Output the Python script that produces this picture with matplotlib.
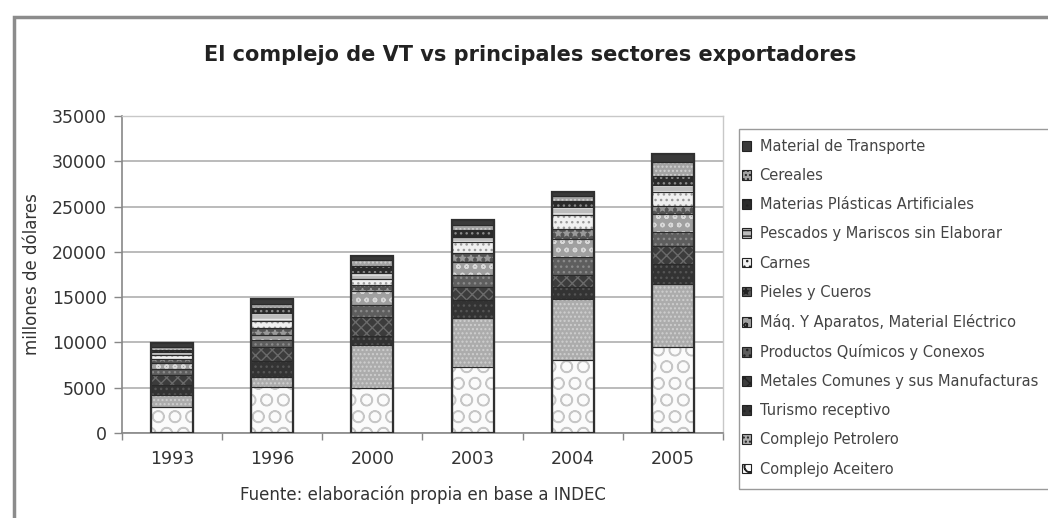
import matplotlib
matplotlib.use('Agg')
import matplotlib.pyplot as plt
import numpy as np
from matplotlib.patches import Patch, Rectangle

years = ['1993', '1996', '2000', '2003', '2004', '2005']

# series listed bottom -> top of the stack
aceitero   = [2900, 5100, 5000, 7300, 8100, 9500]
petrolero  = [1300, 1100, 4700, 5450, 6650, 7000]
turismo    = [1100, 1800, 1000, 1900, 1400, 2200]
metales    = [1100, 1500, 2100, 1500, 1300, 1900]
quimicos   = [700, 750, 1300, 1300, 2000, 1600]
maquinas   = [600, 550, 1600, 1450, 2000, 2000]
pieles     = [500, 800, 600, 950, 1100, 900]
carnes     = [400, 800, 700, 1250, 1500, 1500]
pescados   = [300, 900, 700, 550, 900, 800]
plasticas  = [300, 550, 700, 750, 700, 1000]
cereales   = [300, 400, 700, 550, 500, 1500]
transporte = [400, 600, 400, 550, 500, 900]

names = ['Complejo Aceitero', 'Complejo Petrolero', 'Turismo receptivo',
         'Metales Comunes y sus Manufacturas', 'Productos Químicos y Conexos',
         'Máq. Y Aparatos, Material Eléctrico', 'Pieles y Cueros', 'Carnes',
         'Pescados y Mariscos sin Elaborar', 'Materias Plásticas Artificiales',
         'Cereales', 'Material de Transporte']
series = [aceitero, petrolero, turismo, metales, quimicos, maquinas, pieles,
          carnes, pescados, plasticas, cereales, transporte]

# (face colour, hatch, hatch colour)
styles = [
    ('#fbfbfb', 'O', '#c6c6c6'),
    ('#acacac', '....', '#cfcfcf'),
    ('#333333', '...', '#555555'),
    ('#3c3c3c', 'xxx', '#6a6a6a'),
    ('#5e5e5e', '...', '#8a8a8a'),
    ('#a0a0a0', 'oo', '#d8d8d8'),
    ('#555555', '**', '#9a9a9a'),
    ('#f0f0f0', '...', '#9a9a9a'),
    ('#bdbdbd', '---', '#e8e8e8'),
    ('#2b2b2b', '...', '#8a8a8a'),
    ('#a3a3a3', '....', '#d0d0d0'),
    ('#3a3a3a', '', '#3a3a3a'),
]

plt.rcParams['font.family'] = ['DejaVu Sans']
plt.rcParams['hatch.linewidth'] = 1.0

W, H = 1048, 518
fig = plt.figure(figsize=(W / 100, H / 100), dpi=100)

def fx(px):
    return px / W

def fy(py):
    return 1 - py / H

# outer frame
fig.patches.append(Rectangle((fx(14), fy(540)), fx(1070) - fx(14), fy(17) - fy(540),
                             transform=fig.transFigure, fill=False,
                             edgecolor='#8c8c8c', linewidth=2.5, zorder=0))

ax = fig.add_axes([fx(122), fy(433), fx(723) - fx(122), fy(116) - fy(433)])

x = np.arange(len(years))
bw = 0.42
bottom = np.zeros(len(years))
for vals, (face, hatch, hcol) in zip(series, styles):
    v = np.array(vals, dtype=float)
    ax.bar(x, v, bw, bottom=bottom, color=face, edgecolor=hcol, hatch=hatch,
           linewidth=0, zorder=2)
    ax.bar(x, v, bw, bottom=bottom, fill=False, edgecolor='#2a2a2a',
           linewidth=0.8, zorder=3)
    bottom += v
ax.bar(x, bottom, bw, fill=False, edgecolor='#303030', linewidth=1.6, zorder=4)

ax.set_xlim(-0.5, len(years) - 0.5)
ax.set_ylim(0, 35000)
ax.set_yticks(np.arange(0, 35001, 5000))
ax.set_yticklabels([str(v) for v in range(0, 35001, 5000)])
ax.set_xticks(x)
ax.set_xticklabels(years)
ax.set_xticks(np.arange(-0.5, len(years), 1.0), minor=True)
ax.tick_params(axis='x', which='major', length=0, pad=12, labelsize=12.5,
               labelcolor='#333333')
ax.tick_params(axis='x', which='minor', length=5, width=1, color='#888888',
               direction='out')
ax.tick_params(axis='y', length=6, width=1, color='#888888', pad=5,
               labelsize=12.5, labelcolor='#333333')
ax.yaxis.grid(True, color='#a8a8a8', linewidth=1.1, zorder=0)
ax.set_axisbelow(True)
for s in ['left', 'bottom']:
    ax.spines[s].set_color('#888888')
    ax.spines[s].set_linewidth(1.2)
for s in ['top', 'right']:
    ax.spines[s].set_color('#c8c8c8')
    ax.spines[s].set_linewidth(1.0)

ax.set_ylabel('millones de dólares', fontsize=12, color='#333333', labelpad=8)
ax.set_xlabel('Fuente: elaboración propia en base a INDEC', fontsize=12,
              color='#333333', labelpad=13)

fig.text(fx(530), fy(55), 'El complejo de VT vs principales sectores exportadores',
         ha='center', va='center', fontsize=15, fontweight='bold', color='#222222')

# legend box
fig.patches.append(Rectangle((fx(739), fy(489)), fx(1070) - fx(739), fy(129) - fy(489),
                             transform=fig.transFigure, fill=False,
                             edgecolor='#9a9a9a', linewidth=1.0, zorder=1))
handles = []
for name, (face, hatch, hcol) in zip(names, styles):
    handles.append(Patch(facecolor=face, hatch=hatch, edgecolor='#222222',
                         linewidth=0.8, label=name))
handles = handles[::-1]
leg = fig.legend(handles=handles, loc='upper left',
                 bbox_to_anchor=(fx(742), fy(139)), frameon=False,
                 fontsize=10.5, labelspacing=0.97, handlelength=0.65,
                 handleheight=0.65, handletextpad=0.55, borderpad=0,
                 borderaxespad=0, labelcolor='#444444')

fig.savefig('out.png', dpi=100)
